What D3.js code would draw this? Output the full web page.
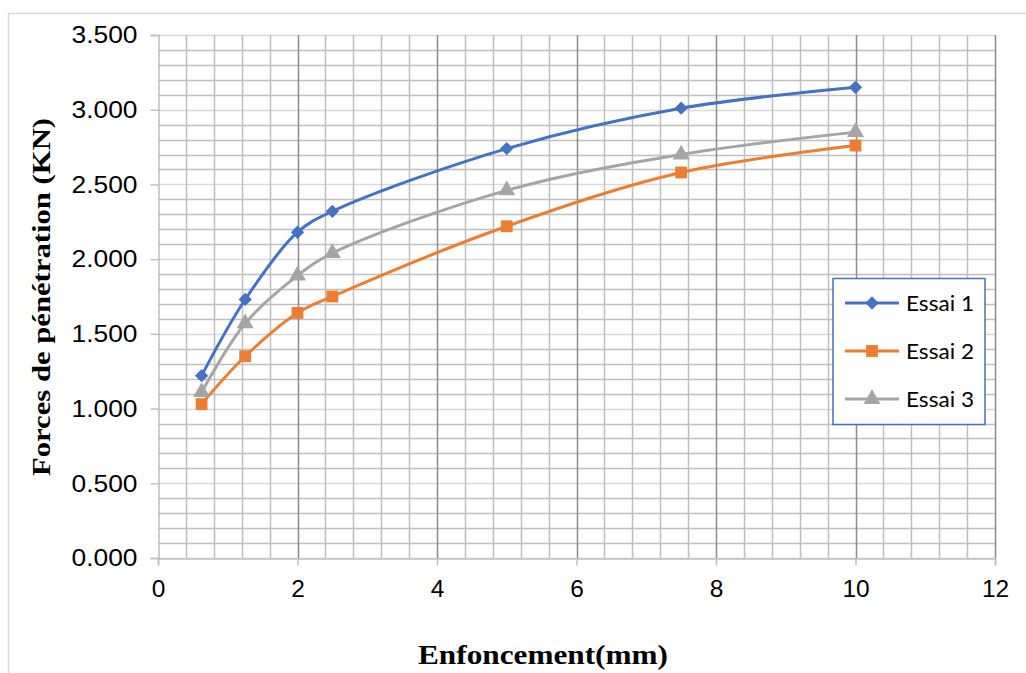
<!DOCTYPE html>
<html>
<head>
<meta charset="utf-8">
<script src="https://cdn.jsdelivr.net/npm/d3@7"></script>
<style>
  html, body { margin: 0; padding: 0; background: #ffffff; }
  svg { display: block; }
</style>
</head>
<body>
<svg id="chart" width="1026" height="673"></svg>
<script>
// Penetration depth (mm) and measured penetration force (kN) for three tests
const penetration = [0.625, 1.25, 2, 2.5, 5, 7.5, 10];
const essai1 = [1.22, 1.73, 2.18, 2.32, 2.74, 3.01, 3.15];
const essai2 = [1.03, 1.35, 1.64, 1.75, 2.22, 2.58, 2.76];
const essai3 = [1.11, 1.57, 1.89, 2.04, 2.46, 2.70, 2.85];
const seriesNames = ["Essai 1", "Essai 2", "Essai 3"];
const xTicks = [0, 2, 4, 6, 8, 10, 12];
const yTicks = [0, 0.5, 1, 1.5, 2, 2.5, 3, 3.5];
const yTickLabels = ["0.000", "0.500", "1.000", "1.500", "2.000", "2.500", "3.000", "3.500"];

const colors = ["#4472C4", "#ED7D31", "#A5A5A5"];
// diamond = square turned 45 degrees
const markers = [d3.symbolSquare, d3.symbolSquare, d3.symbolTriangle];
const markerSizes = [88, 140, 125];
const markerRotation = [45, 0, 0];

const svg = d3.select("#chart");
const plotLeft = 158, plotRight = 995, plotTop = 35, plotBottom = 558;

const x = d3.scaleLinear().domain([0, 12]).range([plotLeft, plotRight]);
const y = d3.scaleLinear().domain([0, 3.5]).range([plotBottom, plotTop]);

// outer chart frame
svg.append("rect")
  .attr("x", 8.5).attr("y", 13.5)
  .attr("width", 1040).attr("height", 700)
  .attr("fill", "none").attr("stroke", "#d9d9d9").attr("stroke-width", 1.5);

const grid = svg.append("g");

// horizontal minor grid (every 0.1)
const yMinor = d3.range(0, 36).map(i => i / 10).filter((v, i) => i % 5 !== 0);
grid.selectAll(".hmin").data(yMinor).join("line")
  .attr("x1", plotLeft).attr("x2", plotRight)
  .attr("y1", d => Math.round(y(d)) + 0.5).attr("y2", d => Math.round(y(d)) + 0.5)
  .attr("stroke", "#bfbfbf").attr("stroke-width", 1.5);

// horizontal major grid (every 0.5)
grid.selectAll(".hmaj").data(yTicks).join("line")
  .attr("x1", plotLeft).attr("x2", plotRight)
  .attr("y1", d => Math.round(y(d)) + 0.5).attr("y2", d => Math.round(y(d)) + 0.5)
  .attr("stroke", "#d9d9d9").attr("stroke-width", 1.5);

// vertical minor grid (every 0.4)
const xMinor = d3.range(0, 31).map(i => i * 0.4).filter((v, i) => i % 5 !== 0);
grid.selectAll(".vmin").data(xMinor).join("line")
  .attr("x1", d => Math.round(x(d)) + 0.5).attr("x2", d => Math.round(x(d)) + 0.5)
  .attr("y1", plotTop).attr("y2", plotBottom)
  .attr("stroke", "#bfbfbf").attr("stroke-width", 1.5);

// vertical major grid (every 2)
grid.selectAll(".vmaj").data(xTicks.filter(d => d > 0)).join("line")
  .attr("x1", d => Math.round(x(d)) + 0.5).attr("x2", d => Math.round(x(d)) + 0.5)
  .attr("y1", plotTop).attr("y2", plotBottom)
  .attr("stroke", "#8c8c8c").attr("stroke-width", 1.5);

// y axis
const yAxis = svg.append("g").attr("transform", `translate(${plotLeft + 0.5},0)`)
  .call(d3.axisLeft(y).tickValues(yTicks).tickSize(8).tickPadding(13)
    .tickFormat((d, i) => yTickLabels[i]));
yAxis.select(".domain").attr("stroke", "#bfbfbf").attr("stroke-width", 1.5);
yAxis.selectAll(".tick line").attr("stroke", "#bfbfbf").attr("stroke-width", 1.5);
yAxis.selectAll(".tick text")
  .attr("fill", "#000").attr("font-family", "'Liberation Sans', Arial, sans-serif")
  .attr("font-size", 24.5)
  .attr("textLength", 66).attr("lengthAdjust", "spacingAndGlyphs");

// x axis
const xAxis = svg.append("g").attr("transform", `translate(0,${plotBottom + 0.5})`)
  .call(d3.axisBottom(x).tickValues(xTicks).tickSize(7).tickPadding(14));
xAxis.select(".domain").attr("stroke", "#bfbfbf").attr("stroke-width", 1.5);
xAxis.selectAll(".tick line").attr("stroke", "#bfbfbf").attr("stroke-width", 1.5);
xAxis.selectAll(".tick text")
  .attr("fill", "#000").attr("font-family", "'Liberation Sans', Arial, sans-serif")
  .attr("font-size", 24.5);

// series lines and markers
const allSeries = [essai1, essai2, essai3];
const line = d3.line()
  .x((d, i) => x(penetration[i]))
  .y(d => y(d))
  .curve(d3.curveCatmullRom.alpha(0.5));

allSeries.forEach((vals, s) => {
  svg.append("path").datum(vals)
    .attr("d", line)
    .attr("fill", "none").attr("stroke", colors[s])
    .attr("stroke-width", 3).attr("stroke-linejoin", "round").attr("stroke-linecap", "round");
});
allSeries.forEach((vals, s) => {
  const sym = d3.symbol().type(markers[s]).size(markerSizes[s]);
  svg.append("g").selectAll("path").data(vals).join("path")
    .attr("transform", (d, i) => `translate(${x(penetration[i])},${y(d)}) rotate(${markerRotation[s]})`)
    .attr("d", sym).attr("fill", colors[s]);
});

// legend
const legend = svg.append("g");
legend.append("rect")
  .attr("x", 833).attr("y", 278.5).attr("width", 152).attr("height", 146)
  .attr("fill", "#fff").attr("stroke", "#4472C4").attr("stroke-width", 1.5);
const rowY = [303, 351, 399];
seriesNames.forEach((name, s) => {
  legend.append("line")
    .attr("x1", 845).attr("x2", 899).attr("y1", rowY[s]).attr("y2", rowY[s])
    .attr("stroke", colors[s]).attr("stroke-width", 3);
  legend.append("path")
    .attr("transform", `translate(872,${rowY[s]}) rotate(${markerRotation[s]})`)
    .attr("d", d3.symbol().type(markers[s]).size(markerSizes[s]))
    .attr("fill", colors[s]);
  legend.append("text")
    .attr("x", 906).attr("y", rowY[s]).attr("dy", "0.36em")
    .attr("font-family", "Lato, 'Open Sans', sans-serif").attr("font-size", 22)
    .attr("textLength", 68).attr("lengthAdjust", "spacingAndGlyphs")
    .attr("fill", "#000").text(name);
});

// axis titles
svg.append("text")
  .attr("transform", "translate(50,297) rotate(-90)")
  .attr("text-anchor", "middle")
  .attr("font-family", "'Liberation Serif', 'Times New Roman', serif")
  .attr("font-weight", "bold").attr("font-size", 26)
  .attr("textLength", 358).attr("lengthAdjust", "spacingAndGlyphs")
  .attr("fill", "#000").text("Forces de pénétration (KN)");

svg.append("text")
  .attr("x", 543).attr("y", 664)
  .attr("text-anchor", "middle")
  .attr("font-family", "'Liberation Serif', 'Times New Roman', serif")
  .attr("font-weight", "bold").attr("font-size", 28)
  .attr("textLength", 250).attr("lengthAdjust", "spacingAndGlyphs")
  .attr("fill", "#000").text("Enfoncement(mm)");
</script>
</body>
</html>
